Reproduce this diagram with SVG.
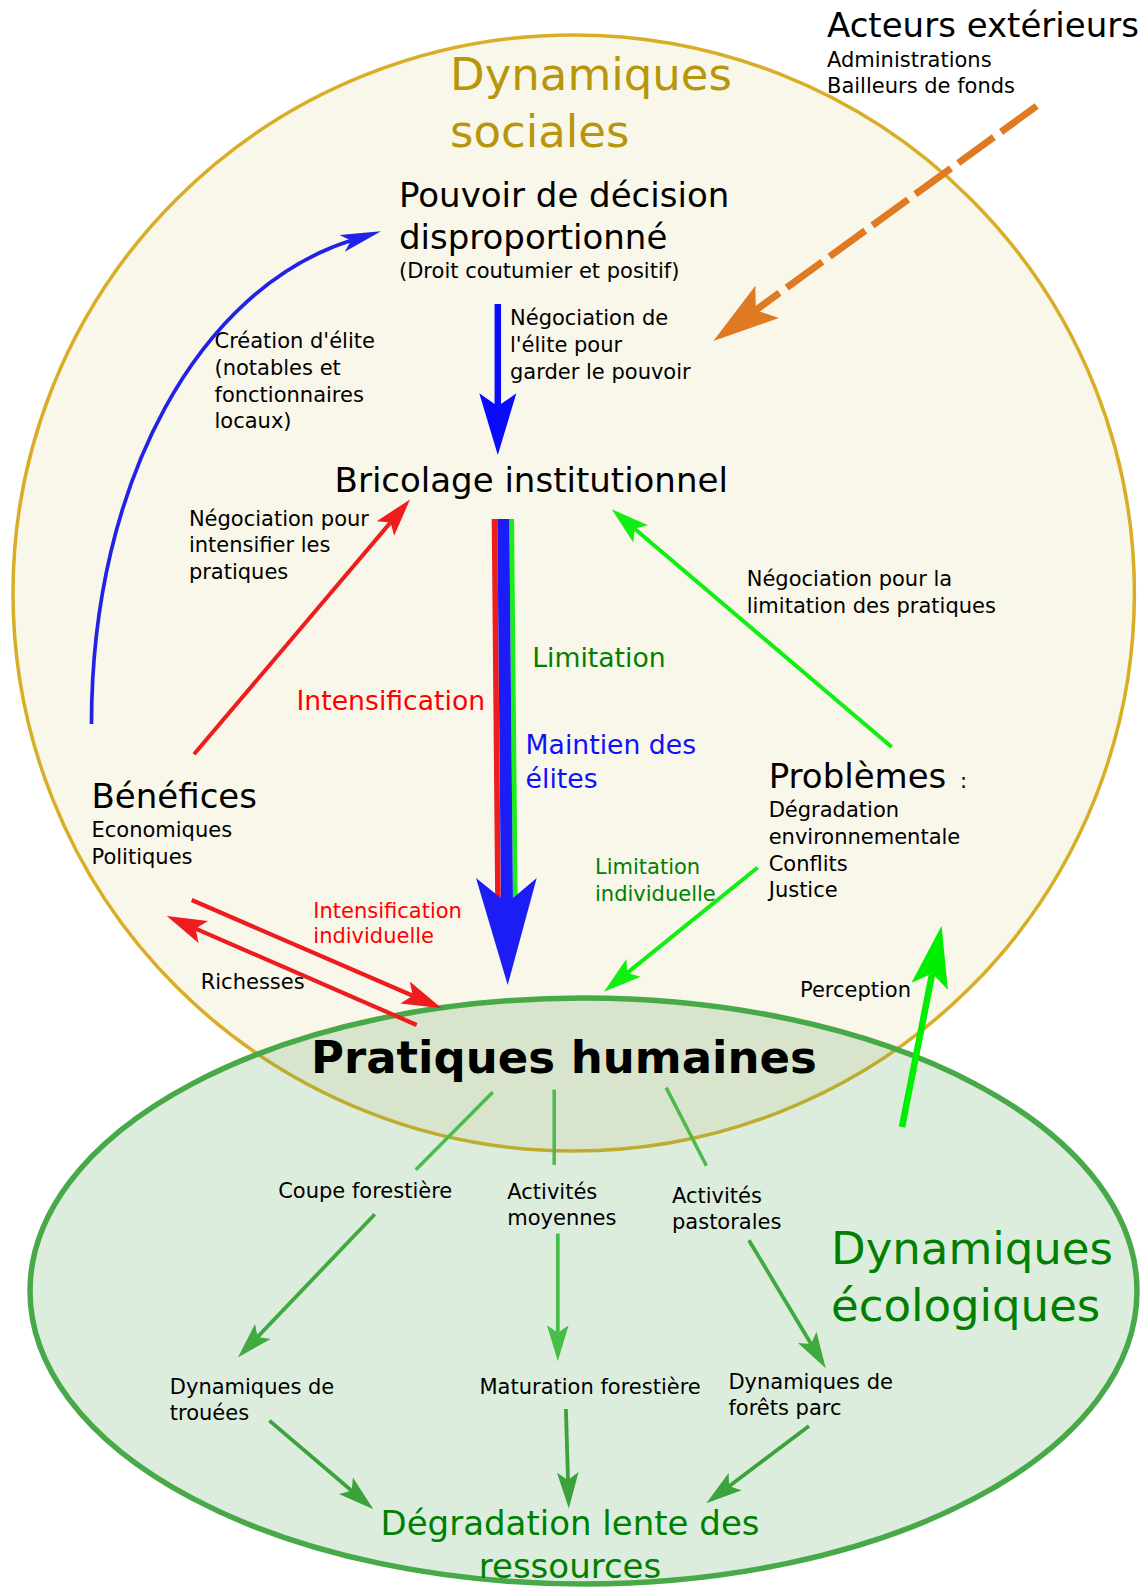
<svg xmlns="http://www.w3.org/2000/svg" width="1148" height="1587" viewBox="0 0 1148 1587">
<style>
text{font-family:"DejaVu Sans","Liberation Sans",sans-serif;fill:#000}
.s{font-size:21px}
.m{font-size:26.67px}
.l{font-size:34px}
.xl{font-size:45px}
.green{fill:#008000}
.red{fill:#ff0000}
.blue{fill:#1010ff}
.gold{fill:#b8960b}
.ln{fill:none;stroke-linecap:butt}
</style>
<defs>
<marker id="aRed" markerUnits="strokeWidth" orient="auto" refX="2" refY="0" markerWidth="10" markerHeight="6" overflow="visible"><path d="M0,-2.85 L9.5,0 L0,2.85 L2,0 z" fill="#ee1c1c"/></marker>
<marker id="aGreen" markerUnits="strokeWidth" orient="auto" refX="2" refY="0" markerWidth="10" markerHeight="6" overflow="visible"><path d="M0,-2.85 L9.5,0 L0,2.85 L2,0 z" fill="#11ee11"/></marker>
<marker id="aGreenB" markerUnits="strokeWidth" orient="auto" refX="2" refY="0" markerWidth="10" markerHeight="6" overflow="visible"><path d="M0,-2.85 L9.5,0 L0,2.85 L2,0 z" fill="#00ee00"/></marker>
<marker id="aBlue" markerUnits="strokeWidth" orient="auto" refX="2" refY="0" markerWidth="10" markerHeight="6" overflow="visible"><path d="M0,-2.85 L9.5,0 L0,2.85 L2,0 z" fill="#0a0aff"/></marker>
<marker id="aBlueC" markerUnits="strokeWidth" orient="auto" refX="2.5" refY="0" markerWidth="11" markerHeight="5" overflow="visible"><path d="M0,-2.4 L11,0 L0,2.4 L2.5,0 z" fill="#2222e6"/></marker>
<marker id="aOrange" markerUnits="strokeWidth" orient="auto" refX="2" refY="0" markerWidth="10" markerHeight="6" overflow="visible"><path d="M0,-2.85 L9.5,0 L0,2.85 L2,0 z" fill="#e07a22"/></marker>
<marker id="aG1" markerUnits="strokeWidth" orient="auto" refX="2" refY="0" markerWidth="10" markerHeight="6" overflow="visible"><path d="M0,-2.85 L9.5,0 L0,2.85 L2,0 z" fill="#40a940"/></marker>
<marker id="aG2" markerUnits="strokeWidth" orient="auto" refX="2" refY="0" markerWidth="10" markerHeight="6" overflow="visible"><path d="M0,-2.85 L9.5,0 L0,2.85 L2,0 z" fill="#48be48"/></marker>
<marker id="aG3" markerUnits="strokeWidth" orient="auto" refX="2" refY="0" markerWidth="10" markerHeight="6" overflow="visible"><path d="M0,-2.85 L9.5,0 L0,2.85 L2,0 z" fill="#3ca33c"/></marker>
</defs>
<rect width="1148" height="1587" fill="#ffffff"/>
<g id="dynamiques-sociales-zone">
<ellipse cx="573.7" cy="593" rx="560.7" ry="558" fill="#f9f6ea" stroke="#d9ae27" stroke-width="3.5"/>
</g>
<g id="dynamiques-ecologiques-zone">
<ellipse cx="583.5" cy="1291" rx="553.5" ry="293" fill="#55a555" fill-opacity="0.2" stroke="#47a947" stroke-width="5.5"/>
</g>
<g id="connectors">
<path class="ln" d="M1036.7,106 L755.8,310.1" stroke="#e07a22" stroke-width="7" stroke-dasharray="44 9" marker-end="url(#aOrange)"/>
<path class="ln" d="M497.8,304 L497.8,406.3" stroke="#0a0aff" stroke-width="6.5" marker-end="url(#aBlue)"/>
<path class="ln" d="M91.5,724 C91.5,480 200,288 351,240.6" stroke="#2222e6" stroke-width="3.7" marker-end="url(#aBlueC)"/>
<path class="ln" d="M194,754.3 L390.6,522.4" stroke="#ee1c1c" stroke-width="4" marker-end="url(#aRed)"/>
<path class="ln" d="M891.7,747 L634.6,528.7" stroke="#11ee11" stroke-width="4" marker-end="url(#aGreen)"/>
<g id="triple-arrow">
<path class="ln" d="M494.5,519 L498,902" stroke="#ee1c1c" stroke-width="5.6"/>
<path class="ln" d="M511.7,519 L515.3,902" stroke="#1aee1a" stroke-width="4.7"/>
<path class="ln" d="M503.3,519 L507,905" stroke="#1c1cf5" stroke-width="12"/>
<polygon points="476,878 507.7,985 536.7,878 507,903" fill="#1c1cf5"/>
</g>
<path class="ln" d="M757.7,867.5 L627.3,972.9" stroke="#11ee11" stroke-width="4" marker-end="url(#aGreen)"/>
<path class="ln" d="M191.7,900 L412.8,995.8" stroke="#ee1c1c" stroke-width="4.2" marker-end="url(#aRed)"/>
<path class="ln" d="M416.7,1025 L195.6,928.6" stroke="#ee1c1c" stroke-width="4.2" marker-end="url(#aRed)"/>
<path class="ln" d="M902,1127 L932.2,973.5" stroke="#00ee00" stroke-width="6.5" marker-end="url(#aGreenB)"/>
<path class="ln" d="M492.7,1092.3 L415.8,1169.7" stroke="#4cba4c" stroke-width="3.5"/>
<path class="ln" d="M554.2,1089.6 L554.2,1165" stroke="#4cba4c" stroke-width="3.5"/>
<path class="ln" d="M666.2,1087.6 L706.4,1165.8" stroke="#4cba4c" stroke-width="3.5"/>
<path class="ln" d="M374.8,1214.2 L257.6,1336.9" stroke="#40a940" stroke-width="3.8" marker-end="url(#aG1)"/>
<path class="ln" d="M557.8,1233.6 L557.8,1332.8" stroke="#48be48" stroke-width="3.8" marker-end="url(#aG2)"/>
<path class="ln" d="M748.9,1240.2 L811.1,1343.9" stroke="#40a940" stroke-width="3.8" marker-end="url(#aG1)"/>
<path class="ln" d="M269.4,1420.6 L351.7,1490.7" stroke="#3ca33c" stroke-width="3.8" marker-end="url(#aG3)"/>
<path class="ln" d="M565.9,1409 L568,1480" stroke="#3ca33c" stroke-width="3.8" marker-end="url(#aG3)"/>
<path class="ln" d="M809,1426 L729.1,1486.2" stroke="#3ca33c" stroke-width="3.8" marker-end="url(#aG3)"/>
</g>
<g id="acteurs-exterieurs">
<text class="l" x="827" y="36.7">Acteurs extérieurs</text>
<text class="s" x="827" y="66.7">Administrations</text>
<text class="s" x="827" y="92.7">Bailleurs de fonds</text>
</g>
<g id="titre-dynamiques-sociales">
<text class="xl gold" x="450" y="90">Dynamiques</text>
<text class="xl gold" x="450" y="146.5">sociales</text>
</g>
<g id="pouvoir-decision">
<text class="l" x="399" y="206.7">Pouvoir de décision</text>
<text class="l" x="399" y="248.5">disproportionné</text>
<text class="s" x="399" y="278">(Droit coutumier et positif)</text>
</g>
<g id="label-negociation-elite">
<text class="s" x="510" y="325">Négociation de</text>
<text class="s" x="510" y="351.7">l'élite pour</text>
<text class="s" x="510" y="379">garder le pouvoir</text>
</g>
<g id="label-creation-elite">
<text class="s" x="214.5" y="348.3">Création d'élite</text>
<text class="s" x="214.5" y="375">(notables et</text>
<text class="s" x="214.5" y="401.5">fonctionnaires</text>
<text class="s" x="214.5" y="428">locaux)</text>
</g>
<g id="bricolage-institutionnel">
<text class="l" x="334.6" y="491.8">Bricolage institutionnel</text>
</g>
<g id="label-negociation-intensifier">
<text class="s" x="188.9" y="525.7">Négociation pour</text>
<text class="s" x="188.9" y="552">intensifier les</text>
<text class="s" x="188.9" y="578.5">pratiques</text>
</g>
<g id="label-negociation-limitation">
<text class="s" x="746.7" y="586.4">Négociation pour la</text>
<text class="s" x="746.7" y="612.5">limitation des pratiques</text>
</g>
<g id="label-limitation">
<text class="m green" x="532.2" y="666.8">Limitation</text>
</g>
<g id="label-intensification">
<text class="m red" x="296.5" y="709.6">Intensification</text>
</g>
<g id="label-maintien">
<text class="m blue" x="525.6" y="754.3">Maintien des</text>
<text class="m blue" x="525.6" y="787.5">élites</text>
</g>
<g id="benefices">
<text class="l" x="91.5" y="808">Bénéfices</text>
<text class="s" x="91.5" y="836.5">Economiques</text>
<text class="s" x="91.5" y="863.5">Politiques</text>
</g>
<g id="problemes">
<text class="l" x="768.7" y="787.5">Problèmes<tspan class="s" dx="7"> :</tspan></text>
<text class="s" x="768.7" y="817.4">Dégradation</text>
<text class="s" x="768.7" y="844">environnementale</text>
<text class="s" x="768.7" y="871">Conflits</text>
<text class="s" x="768.7" y="897">Justice</text>
</g>
<g id="label-limitation-individuelle">
<text class="s green" x="595" y="874.3">Limitation</text>
<text class="s green" x="595" y="901">individuelle</text>
</g>
<g id="label-intensification-individuelle">
<text class="s red" x="313.3" y="918.3">Intensification</text>
<text class="s red" x="313.3" y="943.3">individuelle</text>
</g>
<g id="label-richesses">
<text class="s" x="200.7" y="989.3">Richesses</text>
</g>
<g id="label-perception">
<text class="s" x="800" y="997">Perception</text>
</g>
<g id="pratiques-humaines">
<text x="311" y="1073" style="font-size:45px;font-weight:bold">Pratiques humaines</text>
</g>
<g id="coupe-forestiere">
<text class="s" x="278.2" y="1197.6">Coupe forestière</text>
</g>
<g id="activites-moyennes">
<text class="s" x="507.3" y="1198.7">Activités</text>
<text class="s" x="507.3" y="1224.7">moyennes</text>
</g>
<g id="activites-pastorales">
<text class="s" x="672" y="1202.6">Activités</text>
<text class="s" x="672" y="1228.8">pastorales</text>
</g>
<g id="titre-dynamiques-ecologiques">
<text class="xl green" x="831" y="1264">Dynamiques</text>
<text class="xl green" x="831" y="1320.5">écologiques</text>
</g>
<g id="dynamiques-trouees">
<text class="s" x="169.8" y="1394.2">Dynamiques de</text>
<text class="s" x="169.8" y="1420">trouées</text>
</g>
<g id="maturation-forestiere">
<text class="s" x="479.5" y="1394.2">Maturation forestière</text>
</g>
<g id="dynamiques-forets-parc">
<text class="s" x="728.4" y="1388.8">Dynamiques de</text>
<text class="s" x="728.4" y="1415">forêts parc</text>
</g>
<g id="degradation-lente">
<text class="l green" x="570" y="1535" text-anchor="middle">Dégradation lente des</text>
<text class="l green" x="570" y="1577.5" text-anchor="middle">ressources</text>
</g>
</svg>
